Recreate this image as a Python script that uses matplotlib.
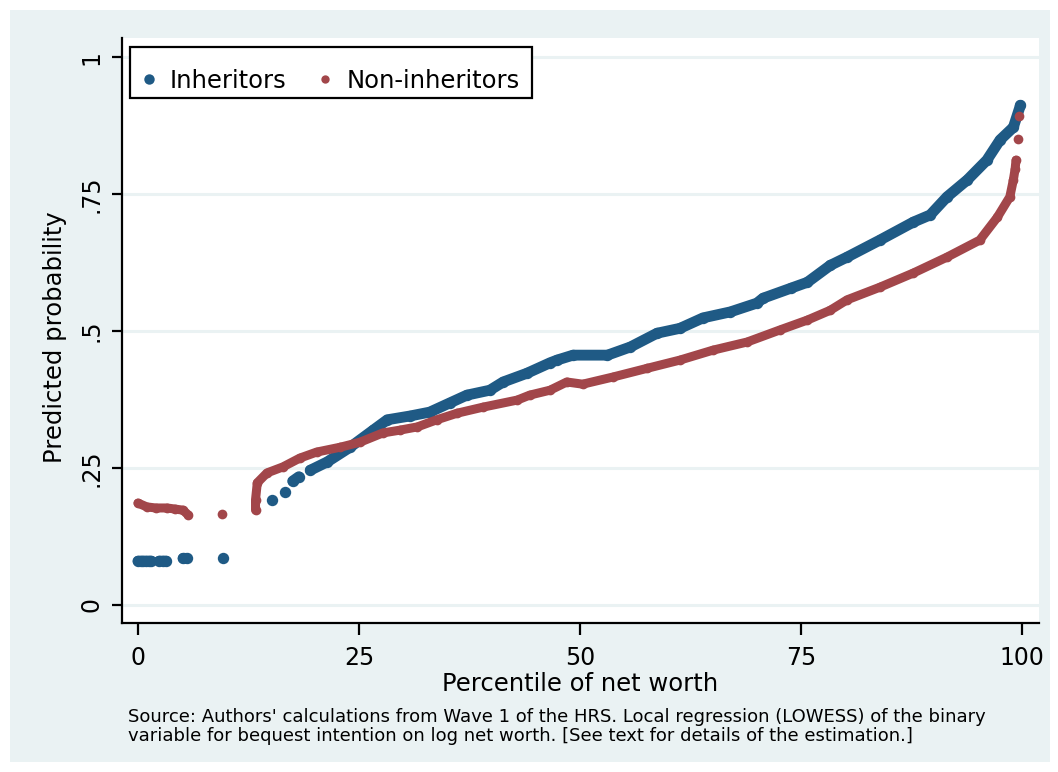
import numpy as np
import matplotlib.pyplot as plt
from matplotlib.lines import Line2D
from matplotlib.patches import Rectangle

nan = np.nan

# Inheritors (blue) -- nan marks a gap between groups of dots
inh_x = [0, 0.3, 0.6, 0.9, 1.2, 1.5, nan, 2.4, 2.8, 3.2, nan, 5.1, 5.5, nan, 9.6, nan,
         15.2, nan, 16.6, nan, 17.5, 18.2, nan,
         19.5, 21.4, 24.0, 26.6, 28.2, 30.8, 33.0, 35.3, 37.2, 39.8, 41.3, 44.0, 46.6,
         47.4, 49.2, 53.1, 55.7, 58.7, 61.3, 63.9, 67.0, 70.0, 70.7, 73.8, 75.7, 78.3,
         80.2, 83.9, 87.7, 89.6, 91.5, 93.8, 96.0, 97.5, 99.0, 99.8]
inh_y = [0.080, 0.080, 0.080, 0.080, 0.080, 0.080, nan, 0.080, 0.080, 0.080, nan, 0.085, 0.085, nan, 0.085, nan,
         0.192, nan, 0.206, nan, 0.226, 0.234, nan,
         0.246, 0.261, 0.288, 0.319, 0.338, 0.345, 0.352, 0.369, 0.383, 0.392, 0.407, 0.423, 0.442,
         0.447, 0.456, 0.456, 0.471, 0.496, 0.505, 0.524, 0.535, 0.551, 0.560, 0.578, 0.589, 0.620,
         0.635, 0.666, 0.699, 0.712, 0.745, 0.776, 0.812, 0.849, 0.872, 0.912]

# Non-inheritors (red)
non_x = [0, 1.0, 2.0, 3.3, 4.2, 5.1, 5.7, nan, 9.5, nan,
         13.3, 13.3, 13.5, 14.6, 16.4, 18.3, 20.2, 22.9, 25.1, 27.7, 29.6, 31.6, 33.8, 36.1,
         39.0, 42.9, 44.3, 46.6, 48.5, 50.3, 53.7, 57.6, 61.3, 65.0, 68.9, 72.6, 75.7, 78.3,
         80.2, 83.9, 87.7, 91.5, 95.2, 97.2, 98.6, 99.0, 99.2, 99.3, nan, 99.5, nan, 99.6]
non_y = [0.186, 0.179, 0.177, 0.177, 0.175, 0.173, 0.164, nan, 0.166, nan,
         0.173, 0.192, 0.223, 0.241, 0.252, 0.268, 0.279, 0.288, 0.297, 0.314, 0.319, 0.325, 0.338, 0.350,
         0.361, 0.374, 0.383, 0.392, 0.407, 0.403, 0.416, 0.432, 0.447, 0.465, 0.480, 0.502, 0.520, 0.538,
         0.557, 0.580, 0.606, 0.635, 0.666, 0.708, 0.745, 0.776, 0.796, 0.812, nan, 0.850, nan, 0.893]

xticks = [0, 25, 50, 75, 100]
yticks = [0, 0.25, 0.5, 0.75, 1]
ytick_labels = ["0", ".25", ".5", ".75", "1"]

blue = "#1F5A85"
red = "#A2464A"
bg = "#EAF2F3"

W, H = 1058, 772
fig = plt.figure(figsize=(W / 100, H / 100), dpi=100, facecolor="white")
fig.patches.append(Rectangle((10 / W, 10 / H), 1040 / W, 752 / H, transform=fig.transFigure,
                             facecolor=bg, edgecolor="none", zorder=-5))

ax = fig.add_axes([122 / W, 1 - 623 / H, 917 / W, 585 / H])
ax.set_facecolor("white")
ax.set_xlim(-1.8, 101.9)
ax.set_ylim(-0.033, 1.035)

for yt in yticks:
    ax.axhline(yt, color=bg, lw=2.2, zorder=1)

ax.plot(inh_x, inh_y, color=blue, lw=7.8, marker="o", ms=8.2, mec="none",
        solid_capstyle="round", solid_joinstyle="round", zorder=3)
ax.plot(non_x, non_y, color=red, lw=6.5, marker="o", ms=7, mec="none",
        solid_capstyle="round", solid_joinstyle="round", zorder=4)

for s in ["top", "right"]:
    ax.spines[s].set_visible(False)
for s in ["left", "bottom"]:
    ax.spines[s].set_linewidth(1.6)
    ax.spines[s].set_color("black")

ax.set_xticks(xticks)
ax.set_xticklabels([str(t) for t in xticks])
ax.set_yticks(yticks)
ax.set_yticklabels(ytick_labels, rotation=90, va="center")
ax.tick_params(axis="x", length=8.5, width=1.6, pad=8, labelsize=17)
ax.tick_params(axis="y", length=7.5, width=1.6, pad=6, labelsize=17)

fig.text(580 / W, 1 - 684 / H, "Percentile of net worth", fontsize=17.5, ha="center", va="center")
fig.text(55 / W, 1 - 337 / H, "Predicted probability", fontsize=17.5, ha="center", va="center",
         rotation=90)
fig.text(128 / W, 1 - 708 / H,
         "Source: Authors' calculations from Wave 1 of the HRS. Local regression (LOWESS) of the binary\n"
         "variable for bequest intention on log net worth. [See text for details of the estimation.]",
         fontsize=13, ha="left", va="top", linespacing=1.06)

# legend box drawn by hand so the text can sit low in it, as in the original
ax.add_patch(Rectangle((130 / W, 1 - 98 / H), 402 / W, 51 / H, transform=fig.transFigure,
                       facecolor="white", edgecolor="black", lw=1.6, zorder=5, clip_on=False))
handles = [Line2D([], [], ls="none", marker="o", ms=7.5, color=blue, mec="none"),
           Line2D([], [], ls="none", marker="o", ms=6, color=red, mec="none")]
leg = ax.legend(handles, ["Inheritors", "Non-inheritors"], ncol=2, loc="center left",
                bbox_to_anchor=(138 / W, 1 - 80.5 / H), bbox_transform=fig.transFigure,
                borderaxespad=0, borderpad=0, fontsize=17.5, frameon=False,
                handlelength=0.9, handletextpad=0.4, columnspacing=1.16)
leg.set_zorder(6)

fig.savefig("out.png", dpi=100, facecolor="white")
